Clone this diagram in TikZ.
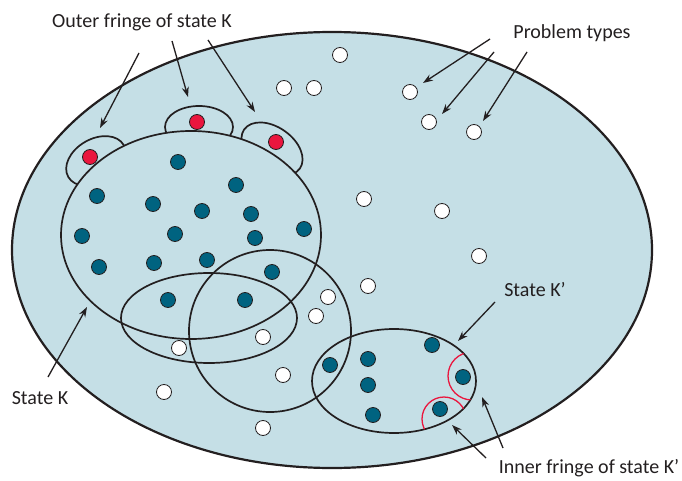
\documentclass[tikz,border=0pt]{standalone}
\usepackage{fontspec}
\setmainfont{Carlito}
\usetikzlibrary{arrows.meta}
\definecolor{bg}{RGB}{197,223,230}
\definecolor{tealdot}{RGB}{0,99,128}
\definecolor{reddot}{RGB}{234,22,62}
\definecolor{ink}{RGB}{35,31,32}
\begin{document}
\begin{tikzpicture}[x=1pt,y=-1pt,
  dotbase/.style={circle,draw=ink,line width=0.8pt,minimum size=15pt,inner sep=0pt},
  tdot/.style={dotbase,fill=tealdot},
  wdot/.style={dotbase,fill=white},
  rdot/.style={dotbase,fill=reddot},
  outl/.style={draw=ink,line width=1.7pt},
  lbl/.style={font=\fontsize{20}{24}\selectfont,text=ink,inner sep=0pt},
  arr/.style={-{Stealth[length=10pt,width=7pt]},line width=1.3pt,draw=ink}]
\useasboundingbox (0,0) rectangle (682,481);
% problem space
\filldraw[fill=bg,draw=ink,line width=2.2pt] (332,250) ellipse (320 and 218);
% outer fringe bumps
\draw[outl,rotate around={30:(96,161)}] (96,161) ellipse (32 and 22);
\draw[outl] (199,127) ellipse (34 and 21);
\draw[outl,rotate around={-35:(272,149)}] (272,149) ellipse (34 and 22);
% state K
\filldraw[outl,fill=bg] (191,235) ellipse (130 and 104);
% other overlapping sets
\draw[outl] (209,318) ellipse (88 and 45);
\draw[outl] (270,331) circle (81);
% state K'
\draw[outl] (394,381) ellipse (82 and 52);
\begin{scope}
  \clip (394,381) ellipse (82 and 52);
  \draw[reddot,line width=1.3pt] (472,376) circle (24);
  \draw[reddot,line width=1.3pt] (444,419) circle (22);
\end{scope}
% red dots
\node[rdot] (r1) at (90,157) {};
\node[rdot] (r2) at (197,122) {};
\node[rdot] (r3) at (276,142) {};
% teal dots in K
\node[tdot] (t1) at (178,162) {};
\node[tdot] (t2) at (236,185) {};
\node[tdot] (t3) at (97,196) {};
\node[tdot] (t4) at (153,204) {};
\node[tdot] (t5) at (202,211) {};
\node[tdot] (t6) at (251,214) {};
\node[tdot] (t7) at (82,236) {};
\node[tdot] (t8) at (175,234) {};
\node[tdot] (t9) at (255,238) {};
\node[tdot] (t10) at (304,229) {};
\node[tdot] (t11) at (99,267) {};
\node[tdot] (t12) at (154,263) {};
\node[tdot] (t13) at (207,260) {};
\node[tdot] (t14) at (272,272) {};
\node[tdot] (t15) at (168,300) {};
\node[tdot] (t16) at (245,300) {};
% teal dots in K'
\node[tdot] (k1) at (432,345) {};
\node[tdot] (k2) at (330,365) {};
\node[tdot] (k3) at (368,359) {};
\node[tdot] (k4) at (368,385) {};
\node[tdot] (k5) at (373,415) {};
\node[tdot] (k6) at (463,377) {};
\node[tdot] (k7) at (440,409) {};
% white dots (problem types)
\node[wdot] (w1) at (340,55) {};
\node[wdot] (w2) at (284,88) {};
\node[wdot] (w3) at (314,88) {};
\node[wdot] (w4) at (410,92) {};
\node[wdot] (w5) at (429,122) {};
\node[wdot] (w6) at (474,132) {};
\node[wdot] (w7) at (364,199) {};
\node[wdot] (w8) at (442,211) {};
\node[wdot] (w9) at (479,256) {};
\node[wdot] (w10) at (368,286) {};
\node[wdot] (w11) at (328,297) {};
\node[wdot] (w12) at (316,316) {};
\node[wdot] (w13) at (263,337) {};
\node[wdot] (w14) at (179,348) {};
\node[wdot] (w15) at (283,375) {};
\node[wdot] (w16) at (164,392) {};
\node[wdot] (w17) at (263,428) {};
% labels
\node[lbl] (louter) at (142,22) {Outer fringe of state K};
\node[lbl] (lprob) at (572,33) {Problem types};
\node[lbl] (lk) at (40,398) {State K};
\node[lbl] (lkp) at (535,290) {State K’};
\node[lbl] (linner) at (589,468) {Inner fringe of state K’};
% arrow anchors
\coordinate (o1s) at (139,53);  \coordinate (o1e) at (100,128);
\coordinate (o2s) at (172,41);  \coordinate (o2e) at (188,97);
\coordinate (o3s) at (208,40);  \coordinate (o3e) at (255,112);
\coordinate (p1s) at (490,39);  \coordinate (p1e) at (423,83);
\coordinate (p2s) at (494,52);  \coordinate (p2e) at (442,114);
\coordinate (p3s) at (527,52);  \coordinate (p3e) at (483,121);
\coordinate (ks) at (48,377);   \coordinate (ke) at (87,307);
\coordinate (kps) at (495,302); \coordinate (kpe) at (458,341);
\coordinate (i1s) at (486,458); \coordinate (i1e) at (452,425);
\coordinate (i2s) at (503,448); \coordinate (i2e) at (482,397);
\draw[arr] (o1s) -- (o1e);
\draw[arr] (o2s) -- (o2e);
\draw[arr] (o3s) -- (o3e);
\draw[arr] (p1s) -- (p1e);
\draw[arr] (p2s) -- (p2e);
\draw[arr] (p3s) -- (p3e);
\draw[arr] (ks) -- (ke);
\draw[arr] (kps) -- (kpe);
\draw[arr] (i1s) -- (i1e);
\draw[arr] (i2s) -- (i2e);
\end{tikzpicture}
\end{document}
